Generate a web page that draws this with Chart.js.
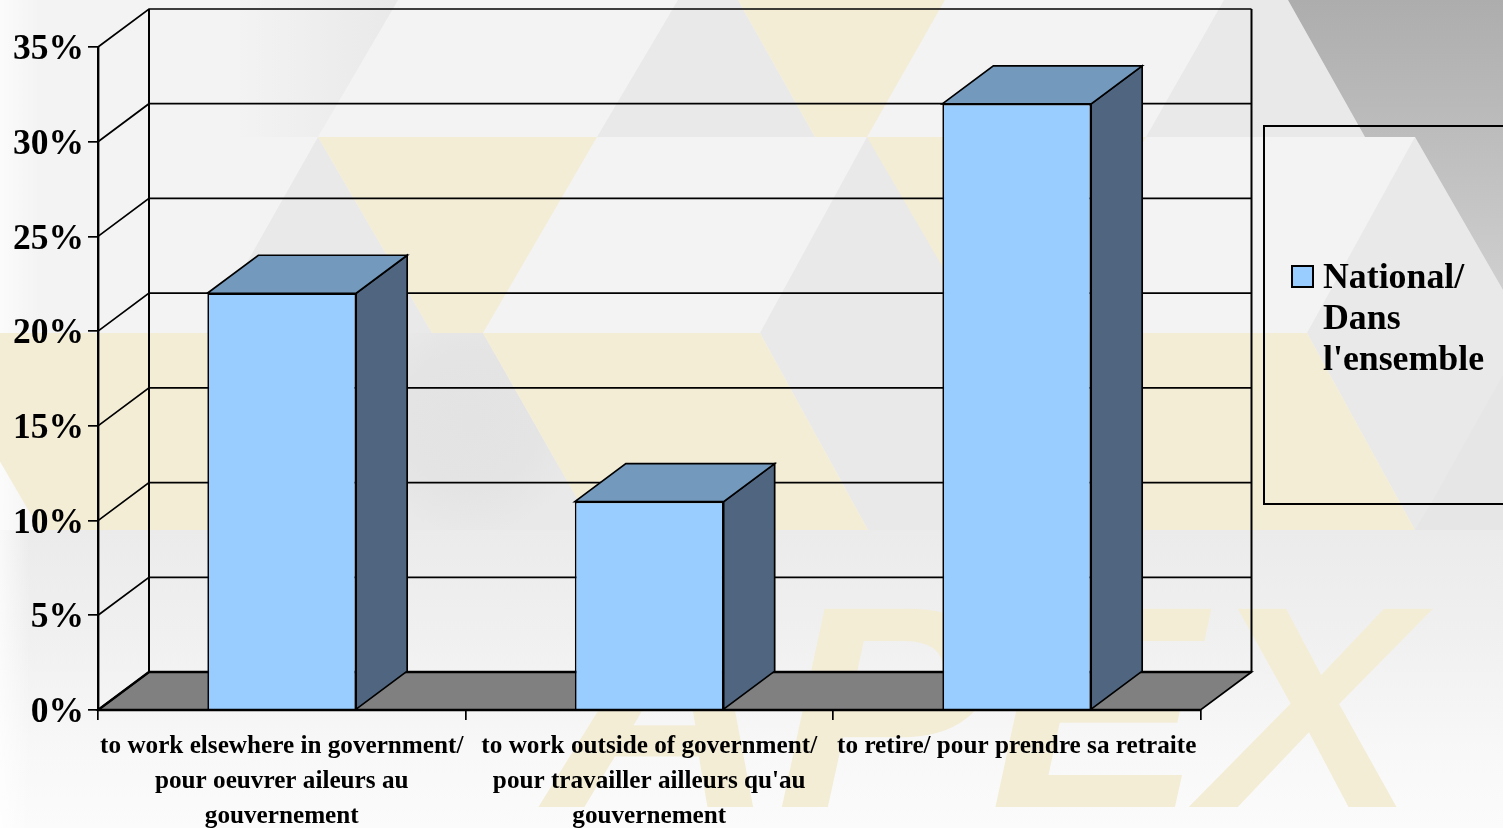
<!DOCTYPE html>
<html>
<head>
<meta charset="utf-8">
<style>
html,body{margin:0;padding:0;width:1503px;height:828px;overflow:hidden;background:#f3f3f3}
#wrap{position:relative;width:1503px;height:828px;overflow:hidden}
#bg{position:absolute;left:0;top:0}
canvas{position:absolute;left:0;top:0}
#legend{position:absolute;left:1263px;top:125px;width:300px;height:376px;border:2px solid #000;box-sizing:content-box;font:bold 35.8px/41px "Liberation Serif",serif;color:#000}
#swatch{position:absolute;left:26px;top:138px;width:19px;height:19px;background:#99ccff;border:2px solid #000}
#ltext{position:absolute;left:58px;top:129px;width:175px}
</style>
</head>
<body>
<div id="wrap">
<svg id="bg" width="1503" height="828" viewBox="0 0 1503 828">
<defs>
<linearGradient id="low" x1="0" y1="0" x2="0" y2="1"><stop offset="0" stop-color="#ebebeb"/><stop offset="0.35" stop-color="#f0f0f0"/><stop offset="0.75" stop-color="#f8f8f8"/><stop offset="1" stop-color="#fbfbfb"/></linearGradient>
<linearGradient id="dark" x1="0" y1="0" x2="0" y2="1"><stop offset="0" stop-color="#adadad"/><stop offset="1" stop-color="#cfcfcf"/></linearGradient>
<linearGradient id="fadeL" x1="0" y1="0" x2="1" y2="0"><stop offset="0" stop-color="#ffffff" stop-opacity="0.7"/><stop offset="1" stop-color="#ffffff" stop-opacity="0"/></linearGradient>
<linearGradient id="fadeT" x1="0" y1="0" x2="1" y2="0"><stop offset="0" stop-color="#f3f3f3"/><stop offset="0.5" stop-color="#eeeeee"/><stop offset="1" stop-color="#e9e9e9"/></linearGradient>
<radialGradient id="mid" gradientUnits="userSpaceOnUse" cx="470" cy="420" r="115"><stop offset="0" stop-color="#e3e3e3"/><stop offset="0.6" stop-color="#e4e4e4"/><stop offset="1" stop-color="#e9e9e9"/></radialGradient>
</defs>
<rect x="0" y="0" width="1503" height="530" fill="#f3f3f3"/>
<polygon points="235,0 398,0 318,137 235,137" fill="url(#fadeT)"/>
<polygon points="678,0 738,0 815,137 597,137" fill="#e9e9e9"/>
<polygon points="1224,0 1288,0 1365,137 1146,137" fill="#e9e9e9"/>
<polygon points="318,137 432,333 483,333 595,530 318,530 207,333" fill="#e9e9e9"/>
<polygon points="407,333 483,333 595,530 407,530" fill="url(#mid)"/>
<polygon points="867,137 1146,137 1032,333 1140,530 868,530 760,333" fill="#e9e9e9"/>
<polygon points="1415,137 1503,290 1503,530 1415,530 1307,333" fill="#e9e9e9"/>
<polygon points="1503,375 1433,500 1415,530 1503,530" fill="#e6e6e6"/>
<polygon points="1288,0 1503,0 1503,290 1415,137 1365,137" fill="url(#dark)"/>
<rect x="0" y="0" width="40" height="530" fill="url(#fadeL)"/>
<polygon points="738,0 945,0 867,137 815,137" fill="#f3edd6"/>
<polygon points="318,137 597,137 483,333 432,333" fill="#f3edd6"/>
<polygon points="867,137 1146,137 1032,333 981,333" fill="#f3edd6"/>
<polygon points="-75,333 207,333 318,530 40,530" fill="#f3edd6"/>
<polygon points="483,333 760,333 868,530 595,530" fill="#f3edd6"/>
<polygon points="1030,333 1307,333 1415,530 1140,530" fill="#f3edd6"/>
<rect x="0" y="530" width="1503" height="298" fill="url(#low)"/>
<rect x="0" y="530" width="30" height="298" fill="url(#fadeL)"/>
<text x="545" y="807" textLength="872" lengthAdjust="spacingAndGlyphs" font-family="Liberation Sans" font-weight="bold" font-style="italic" font-size="288" fill="#f3edd6">APEX</text>
</svg>
<canvas id="c" width="1503" height="828"></canvas>
<div id="legend"><div id="swatch"></div><div id="ltext"></div></div>
</div>
<script src="https://cdn.jsdelivr.net/npm/chart.js@4"></script>
<script>
const categories = [
  ["to work elsewhere in government/", "pour oeuvrer aileurs au", "gouvernement"],
  ["to work outside of government/", "pour travailler ailleurs qu'au", "gouvernement"],
  ["to retire/ pour prendre sa retraite"]
];
const seriesName = "National/ Dans l'ensemble";
const seriesValues = [22, 11, 32];
const yTickStep = 5;
const yMax = 35;

const DX = 51, DY = 38;
const FRONT = '#99ccff', TOP = '#7399bd', SIDE = '#4f6580', FLOOR = '#808080';

const box3d = {
  id: 'box3d',
  beforeDatasetsDraw(chart) {
    const {ctx, chartArea: a, scales: {y}} = chart;
    ctx.save();
    ctx.strokeStyle = '#000';
    ctx.lineJoin = 'miter';
    ctx.fillStyle = FLOOR;
    ctx.beginPath();
    ctx.moveTo(a.left, a.bottom);
    ctx.lineTo(a.left + DX, a.bottom - DY);
    ctx.lineTo(a.right + DX, a.bottom - DY);
    ctx.lineTo(a.right, a.bottom);
    ctx.closePath();
    ctx.fill();
    ctx.lineWidth = 1.7;
    ctx.stroke();
    y.ticks.forEach(t => {
      const p = y.getPixelForValue(t.value);
      ctx.beginPath();
      ctx.moveTo(a.left, p);
      ctx.lineTo(a.left + DX, p - DY);
      ctx.lineTo(a.right + DX, p - DY);
      ctx.lineWidth = t.value === 0 ? 2.4 : 1.7;
      ctx.stroke();
    });
    ctx.lineWidth = 2;
    ctx.beginPath();
    ctx.moveTo(a.left + DX, a.bottom - DY);
    ctx.lineTo(a.left + DX, a.top - DY);
    ctx.moveTo(a.right + DX, a.bottom - DY);
    ctx.lineTo(a.right + DX, a.top - DY);
    ctx.stroke();
    ctx.lineWidth = 1.7;
    chart.getDatasetMeta(0).data.forEach(b => {
      const l = b.x - b.width / 2, r = b.x + b.width / 2;
      ctx.fillStyle = SIDE;
      ctx.beginPath();
      ctx.moveTo(r, b.base);
      ctx.lineTo(r + DX, b.base - DY);
      ctx.lineTo(r + DX, b.y - DY);
      ctx.lineTo(r, b.y);
      ctx.closePath();
      ctx.fill();
      ctx.stroke();
      ctx.fillStyle = TOP;
      ctx.beginPath();
      ctx.moveTo(l, b.y);
      ctx.lineTo(l + DX, b.y - DY);
      ctx.lineTo(r + DX, b.y - DY);
      ctx.lineTo(r, b.y);
      ctx.closePath();
      ctx.fill();
      ctx.stroke();
    });
    ctx.restore();
  },
  afterDatasetsDraw(chart) {
    const {ctx, chartArea: a} = chart;
    ctx.save();
    ctx.strokeStyle = '#000';
    ctx.lineWidth = 2.4;
    ctx.beginPath();
    ctx.moveTo(a.left, a.bottom);
    ctx.lineTo(a.right, a.bottom);
    ctx.stroke();
    ctx.restore();
  }
};

new Chart(document.getElementById('c'), {
  type: 'bar',
  data: {
    labels: categories,
    datasets: [{
      label: seriesName,
      data: seriesValues,
      backgroundColor: FRONT,
      borderColor: '#000',
      borderWidth: 1.7,
      barPercentage: 0.405,
      categoryPercentage: 1
    }]
  },
  options: {
    responsive: false,
    animation: false,
    layout: {padding: {top: 47, right: 302.5, bottom: 0, left: 0}},
    plugins: {legend: {display: false}, tooltip: {enabled: false}},
    scales: {
      x: {
        afterFit(s) { s.height = 118; },
        grid: {offset: true, drawOnChartArea: false, drawTicks: true, tickLength: 10, color: '#000', lineWidth: 1.7},
        border: {display: true, color: '#000', width: 2},
        ticks: {
          autoSkip: false, maxRotation: 0, minRotation: 0, color: '#000', padding: 9,
          font: {family: '"Liberation Serif"', weight: 'bold', size: 25.2, lineHeight: 1.39}
        }
      },
      y: {
        min: 0, max: yMax,
        afterFit(s) { s.width = 98; },
        grid: {drawOnChartArea: false, drawTicks: true, tickLength: 10, color: '#000', lineWidth: 1.7},
        border: {display: true, color: '#000', width: 2.4},
        ticks: {
          stepSize: yTickStep, color: '#000', padding: 4, labelOffset: 3,
          font: {family: '"Liberation Serif"', weight: 'bold', size: 35.5},
          callback: v => v + '%'
        }
      }
    }
  },
  plugins: [box3d]
});
document.getElementById('ltext').textContent = seriesName;
</script>
</body>
</html>
